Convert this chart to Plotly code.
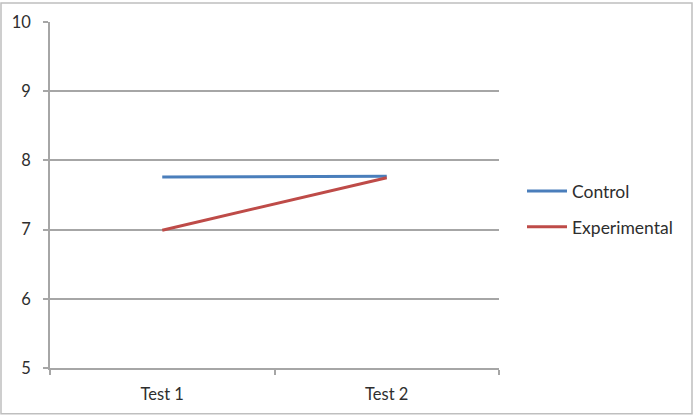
import plotly.graph_objects as go

categories = ["Test 1", "Test 2"]
control = [7.76, 7.77]
experimental = [6.99, 7.75]
y_ticks = [5, 6, 7, 8, 9, 10]

W, H = 694, 416
L, R, T, B = 50, 195, 20, 48
pw, ph = W - L - R, H - T - B

def px_x(px):
    return (px - L) / pw

def px_y(py):
    return (H - B - py) / ph

font = dict(family="Lato, Open Sans, sans-serif", size=16.5, color="#2e2e2e")
legend_font = dict(family="Lato, Open Sans, sans-serif", size=17.5, color="#2e2e2e")
grid = "#a6a6a6"

fig = go.Figure()
fig.add_trace(go.Scatter(x=categories, y=control, mode="lines", name="Control",
                         line=dict(color="#4a7ebb", width=3), legend="legend"))
fig.add_trace(go.Scatter(x=categories, y=experimental, mode="lines", name="Experimental",
                         line=dict(color="#be4b48", width=3), legend="legend2"))

fig.update_layout(
    width=W, height=H,
    margin=dict(l=L, r=R, t=T, b=B),
    paper_bgcolor="white", plot_bgcolor="white",
    font=font,
    showlegend=True,
    legend=dict(x=px_x(522), y=px_y(190), xanchor="left", yanchor="middle",
                font=legend_font, bgcolor="rgba(0,0,0,0)", itemwidth=40),
    legend2=dict(x=px_x(522), y=px_y(226), xanchor="left", yanchor="middle",
                 font=legend_font, bgcolor="rgba(0,0,0,0)", itemwidth=40),
    xaxis=dict(type="category", range=[-0.5, 1.5], showgrid=False,
               showline=True, linecolor=grid, linewidth=1.5,
               ticks="outside", ticklen=5, tickcolor=grid, tickwidth=1.5,
               tickson="boundaries", ticklabelstandoff=10, zeroline=False),
    yaxis=dict(range=[5, 10], tickvals=y_ticks, showgrid=True, gridcolor=grid,
               gridwidth=1.5, showline=True, linecolor=grid, linewidth=1.5,
               ticks="outside", ticklen=5, tickcolor=grid, tickwidth=1.5,
               ticklabelstandoff=9, zeroline=False),
    shapes=[dict(type="rect", xref="paper", yref="paper",
                 x0=px_x(1), x1=px_x(692), y0=px_y(414), y1=px_y(1),
                 line=dict(color="#bfbfbf", width=1.5), layer="below")],
)

fig.write_html("out.html")
